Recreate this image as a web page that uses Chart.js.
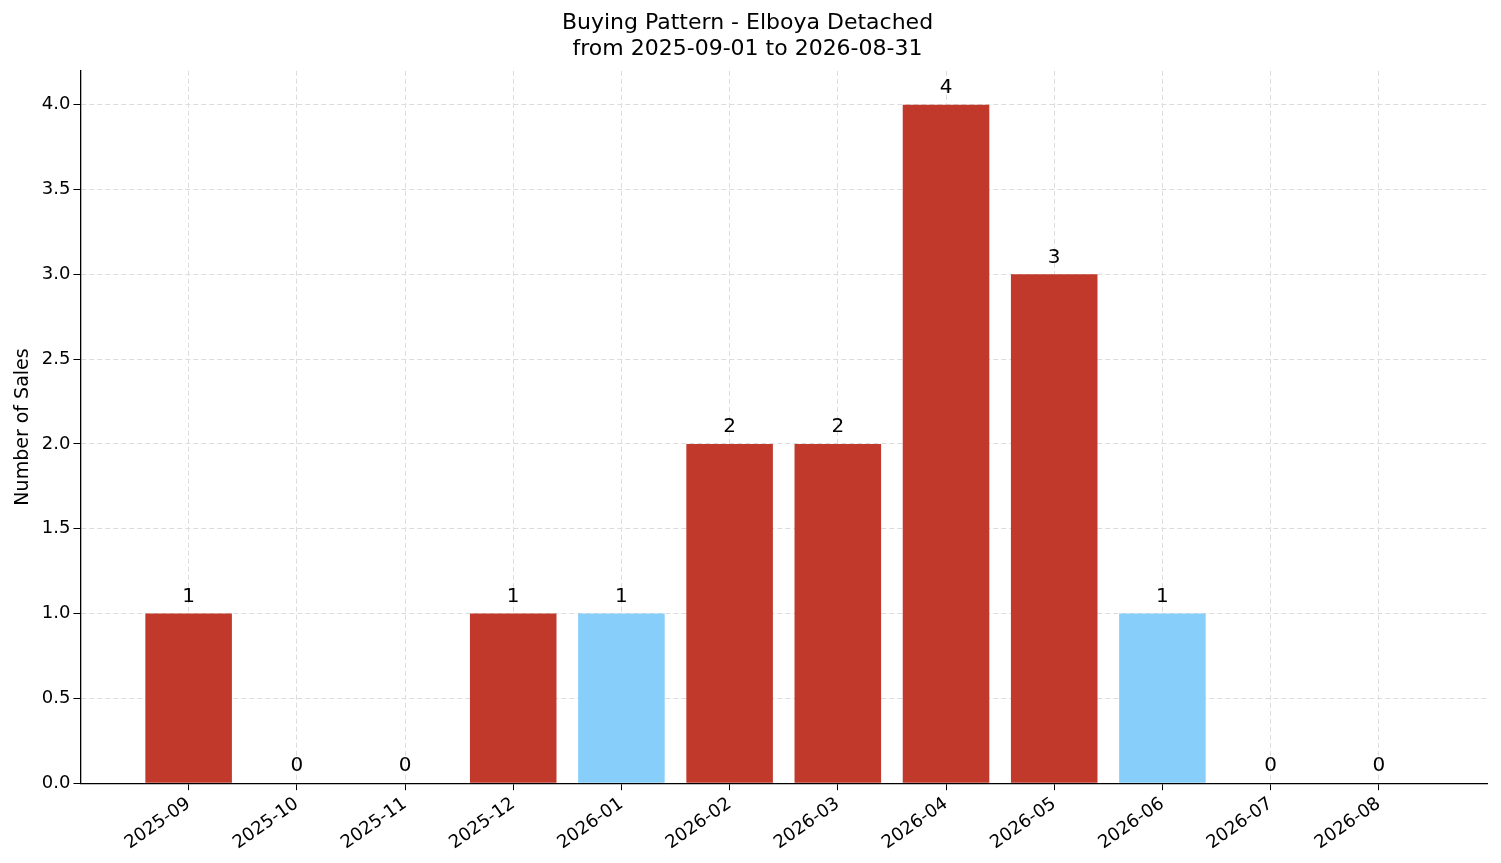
<!DOCTYPE html>
<html><head><meta charset="utf-8">
<script src="https://cdn.jsdelivr.net/npm/chart.js@4"></script>
<style>html,body{margin:0;padding:0;background:#fff}#w{width:1501px;height:863px}</style>
</head><body><div id="w"><canvas id="c" width="1501" height="863"></canvas></div>
<script>
const categories=["2025-09","2025-10","2025-11","2025-12","2026-01","2026-02","2026-03","2026-04","2026-05","2026-06","2026-07","2026-08"];
const sales=[1,0,0,1,1,2,2,4,3,1,0,0];
const highlight=[false,false,false,false,true,false,false,false,false,true,false,false];
const RED="#C0392B",BLUE="#87CEFA";
const labelPlugin={id:"lbl",afterDatasetsDraw(ch){const ctx=ch.ctx;const m=ch.getDatasetMeta(0);ctx.save();ctx.font="20px 'DejaVu Sans'";ctx.fillStyle="#000";ctx.textAlign="center";ctx.textBaseline="bottom";m.data.forEach((b,i)=>{ctx.fillText(String(sales[i]),b.x,b.y-7);});ctx.restore();}};
Chart.defaults.font.family="'DejaVu Sans'";Chart.defaults.color="#000";
new Chart(document.getElementById("c"),{type:"bar",
data:{datasets:[{data:sales.map((v,i)=>({x:i,y:v})),backgroundColor:highlight.map(h=>h?BLUE:RED),barPercentage:0.8,categoryPercentage:1}]},
options:{responsive:false,animation:false,
layout:{padding:{left:8,right:14,top:4,bottom:6}},
plugins:{legend:{display:false},tooltip:{enabled:false},
title:{display:true,text:["Buying Pattern - Elboya Detached","from 2025-09-01 to 2026-08-31"],font:{size:22,weight:"normal"},color:"#000",padding:{top:6,bottom:8},lineHeight:1.2}},
scales:{x:{type:"linear",min:-1,max:12,offset:false,
afterBuildTicks:s=>{s.ticks=s.ticks.filter(t=>t.value>=0&&t.value<12);},
ticks:{stepSize:1,autoSkip:false,maxRotation:35,minRotation:35,font:{size:18},color:"#000",callback:v=>categories[v]??""},
grid:{offset:false,color:"#dcdcdc",tickColor:"#000",tickLength:7,drawTicks:true},
border:{color:"#000",width:1.3,dash:[5,3]}},
y:{min:0,max:4.2,
afterBuildTicks:s=>{s.ticks=s.ticks.filter(t=>t.value<=4.0001);},
ticks:{stepSize:0.5,font:{size:18},color:"#000",callback:v=>v.toFixed(1)},
title:{display:true,text:"Number of Sales",font:{size:19},color:"#000"},
grid:{color:"#dcdcdc",tickColor:"#000",tickLength:7},border:{color:"#000",width:1.3,dash:[5,3]}}}},
plugins:[labelPlugin]});
</script></body></html>
